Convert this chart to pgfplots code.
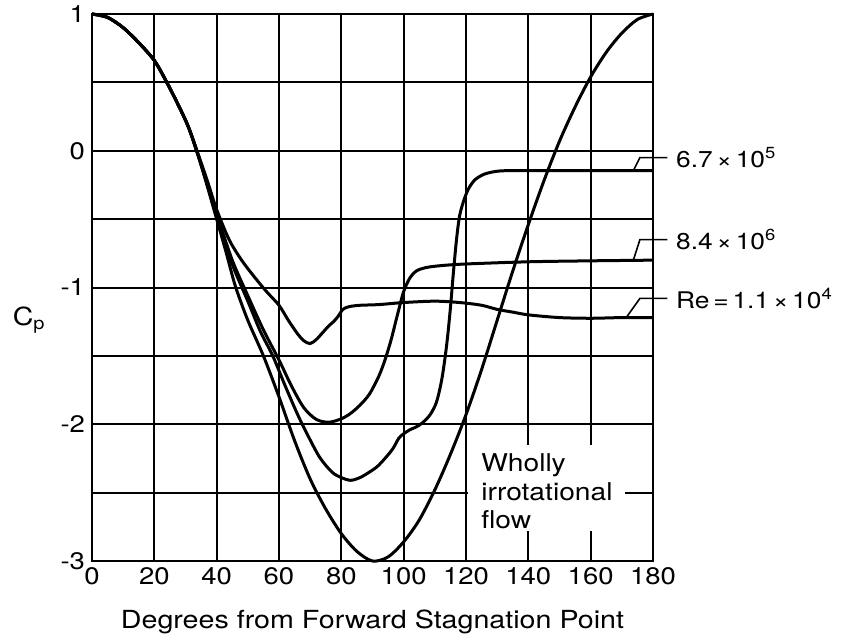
\documentclass[border=0pt]{standalone}
\usepackage{fontspec}
\setmainfont{TeX Gyre Heros}[FakeStretch=1.15]
\usepackage{pgfplots}
\pgfplotsset{compat=1.18}
\begin{document}
\begin{tikzpicture}
\begin{axis}[
  scale only axis, width=280.5bp, height=273.5bp,
  xmin=0, xmax=180, ymin=-3, ymax=1,
  xtick={0,20,...,180}, ytick={-3,-2,...,1},
  minor ytick={-2.5,-1.5,...,0.5},
  grid=both,
  major grid style={black, line width=1bp},
  minor grid style={black, line width=1bp},
  axis line style={black, line width=1bp},
  major tick length=0pt, minor tick length=0pt,
  tick label style={font=\fontsize{12}{14}\selectfont},
  /pgf/number format/assume math mode=true,
  xlabel={Degrees from Forward Stagnation Point},
  xlabel style={font=\fontsize{12.5}{14}\selectfont, at={(axis description cs:0.5,-0.1115)}, anchor=center},
  ylabel={C\textsubscript{p}},
  ylabel style={font=\fontsize{12.5}{14}\selectfont, rotate=-90, at={(axis description cs:-0.112,0.44)}, anchor=center},
  clip=false,
]
\fill[white] (axis cs:120.6,-2.15) rectangle (axis cs:171,-2.78);

% Wholly irrotational flow
\addplot[black, line width=1.5bp, smooth, tension=0.5, mark=none] coordinates {(0,1.00) (5,0.975) (10,0.90) (15,0.79) (20,0.66) (24,0.50) (28,0.32) (31,0.17) (34,-0.03) (37,-0.26) (40,-0.50) (43,-0.74) (46,-0.99) (50,-1.24) (55,-1.50) (60,-1.80) (65,-2.12) (70,-2.40) (75,-2.62) (80,-2.80) (85,-2.93) (90,-3.00) (95,-2.97) (100,-2.86) (105,-2.70) (110,-2.48) (115,-2.22) (120,-1.93) (125,-1.60) (130,-1.24) (135,-0.88) (140,-0.54) (145,-0.22) (150,0.07) (155,0.32) (160,0.54) (165,0.72) (170,0.86) (175,0.96) (180,1.00)};

% Re = 1.1e4
\addplot[black, line width=1.5bp, smooth, tension=0.5, mark=none] coordinates {(0,1.00) (5,0.975) (10,0.90) (15,0.79) (20,0.66) (24,0.50) (28,0.32) (31,0.17) (34,-0.02) (37,-0.22) (40,-0.43) (44,-0.65) (48,-0.80) (52,-0.92) (56,-1.03) (60,-1.13) (63,-1.24) (66,-1.34) (68,-1.39) (70,-1.41) (72,-1.38) (74,-1.33) (76,-1.28) (77.5,-1.25) (79,-1.21) (80.5,-1.16) (82.5,-1.14) (86,-1.13) (92,-1.125) (100,-1.11) (110,-1.10) (118,-1.11) (125,-1.13) (130,-1.16) (135,-1.18) (140,-1.20) (150,-1.22) (160,-1.225) (170,-1.22) (180,-1.22)};

% Re = 8.4e6
\addplot[black, line width=1.5bp, smooth, tension=0.5, mark=none] coordinates {(0,1.00) (5,0.975) (10,0.90) (15,0.79) (20,0.66) (24,0.50) (28,0.32) (31,0.17) (34,-0.03) (37,-0.24) (40,-0.46) (45,-0.80) (50,-1.06) (55,-1.31) (60,-1.53) (64,-1.72) (68,-1.88) (72,-1.965) (76,-1.985) (80,-1.96) (83,-1.92) (86,-1.86) (89,-1.78) (92,-1.65) (94,-1.53) (96,-1.38) (98,-1.20) (100,-1.03) (102,-0.93) (104,-0.88) (107,-0.855) (112,-0.84) (120,-0.828) (140,-0.812) (160,-0.805) (180,-0.80)};

% Re = 6.7e5
\addplot[black, line width=1.5bp, smooth, tension=0.5, mark=none] coordinates {(0,1.00) (5,0.975) (10,0.90) (15,0.79) (20,0.66) (24,0.50) (28,0.32) (31,0.17) (34,-0.03) (37,-0.25) (40,-0.48) (45,-0.83) (50,-1.10) (54,-1.32) (58,-1.50) (62,-1.72) (66,-1.93) (69,-2.07) (73,-2.24) (77,-2.35) (80,-2.39) (83,-2.41) (86,-2.39) (89,-2.35) (91.5,-2.31) (94,-2.25) (96.5,-2.18) (98.5,-2.10) (100,-2.07) (102,-2.04) (104,-2.02) (106,-1.99) (108.5,-1.93) (110.5,-1.84) (112,-1.70) (113,-1.56) (114,-1.38) (115,-1.15) (116,-0.88) (117,-0.64) (118,-0.47) (119.5,-0.35) (121,-0.27) (123,-0.21) (126,-0.17) (130,-0.15) (135,-0.145) (150,-0.145) (180,-0.145)};

\node[anchor=west, align=left, font=\fontsize{12.3}{14.25}\selectfont, inner sep=0pt] at (axis cs:124.8,-2.49) {Wholly\\irrotational\\flow};

\draw[black, line width=0.8bp] (axis cs:173.7,-0.145) -- (axis cs:175.8,-0.05) -- (axis cs:184.6,-0.05);
\draw[black, line width=0.8bp] (axis cs:173.7,-0.80) -- (axis cs:175.8,-0.65) -- (axis cs:184.6,-0.65);
\draw[black, line width=0.8bp] (axis cs:171.5,-1.217) -- (axis cs:175.8,-1.08) -- (axis cs:184.6,-1.08);
\node[anchor=west, inner sep=0pt, font=\fontsize{11.5}{14}\selectfont] at (axis cs:187.3,-0.05) {6.7\,×\,10\textsuperscript{5}};
\node[anchor=west, inner sep=0pt, font=\fontsize{11.5}{14}\selectfont] at (axis cs:187.3,-0.65) {8.4\,×\,10\textsuperscript{6}};
\node[anchor=west, inner sep=0pt, font=\fontsize{11.5}{14}\selectfont] at (axis cs:187.3,-1.08) {Re\,=\,1.1\,×\,10\textsuperscript{4}};
\end{axis}
\pgfresetboundingbox
\useasboundingbox (-46bp,-39bp) rectangle (375bp,280.5bp);
\end{tikzpicture}
\end{document}
